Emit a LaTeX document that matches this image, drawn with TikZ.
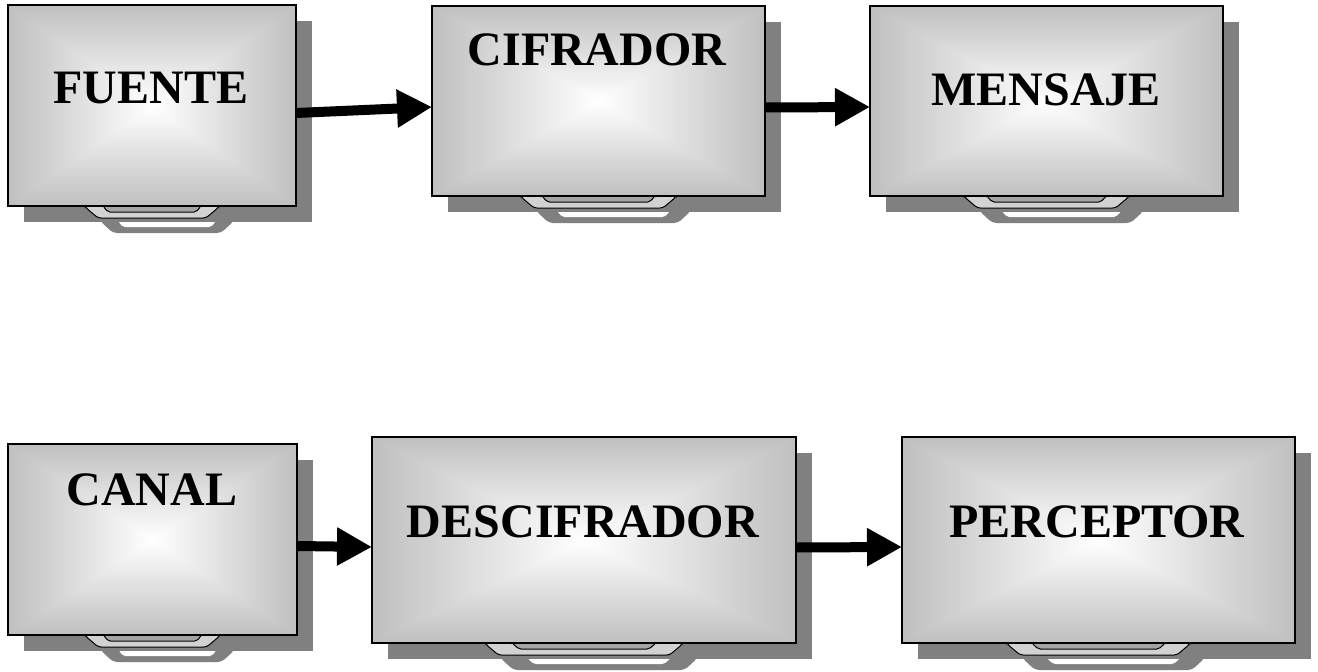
\documentclass[tikz,border=0pt]{standalone}
\usepackage{fontspec}
\setmainfont{Liberation Serif}
\usetikzlibrary{arrows.meta}
\definecolor{sdw}{HTML}{808080}
\definecolor{standlight}{HTML}{D2D2D2}
\definecolor{standdark}{HTML}{A4A4A4}
\pgfdeclarefunctionalshading{tvglow}{\pgfpoint{-50bp}{-50bp}}{\pgfpoint{50bp}{50bp}}{}{
  abs exch abs
  2 copy sub abs add add 2 div
  25 div
  dup 1 sub abs neg 1 add add 2 div
  0.25 mul 1 exch sub
  dup dup
}
\tikzset{
  tvbox/.style={draw=black, line width=1.3pt, shade, shading=tvglow, inner sep=0pt, outer sep=0pt},
  tvlabel/.style={font=\bfseries\fontsize{48}{50}\selectfont, anchor=base, inner sep=0pt},
  flow/.style={line width=10pt, -{Triangle[width=36pt,length=35pt]}},
  boxshadow/.style={fill=sdw},
  standouter/.style={fill=standlight, draw=black, line width=1pt, rounded corners=3pt},
  standinner/.style={fill=standdark, draw=black, line width=1pt, rounded corners=2pt},
}
\newcommand\tvunit[5]{%
  \pgfmathsetmacro\tvcx{(#2+#4)/2}%
  \pgfmathsetmacro\tvcy{(#3+#5)/2}%
  \pgfmathsetmacro\tvw{#4-#2}%
  \pgfmathsetmacro\tvh{#5-#3}%
  \pgfmathsetmacro\tvha{0.2325*(#4-#2)}%
  \pgfmathsetmacro\tvhi{0.73*\tvha}%
  \pgfmathsetmacro\tvhj{0.66*\tvha}%
  \fill[boxshadow, rounded corners=4pt] (\tvcx-\tvha+15,#5) -- (\tvcx-\tvha+15,#5+15) -- (\tvcx-\tvha+28,#5+27) -- (\tvcx+\tvha+2,#5+27) -- (\tvcx+\tvha+15,#5+15) -- (\tvcx+\tvha+15,#5) -- cycle;
  \fill[white, rounded corners=2pt] (\tvcx-\tvhi+15,#5+15) -- (\tvcx-\tvhj+15,#5+21) -- (\tvcx+\tvhj+15,#5+21) -- (\tvcx+\tvhi+15,#5+15) -- cycle;
  \fill[boxshadow] (#2+16,#3+16) rectangle (#4+16,#5+16);
  \path[standouter] (\tvcx-\tvha,#5-3) -- (\tvcx-\tvha,#5+1) -- (\tvcx-\tvha+13,#5+12) -- (\tvcx+\tvha-13,#5+12) -- (\tvcx+\tvha,#5+1) -- (\tvcx+\tvha,#5-3) -- cycle;
  \path[standinner] (\tvcx-\tvhi,#5-3) -- (\tvcx-\tvhi,#5) -- (\tvcx-\tvhj,#5+6) -- (\tvcx+\tvhj,#5+6) -- (\tvcx+\tvhi,#5) -- (\tvcx+\tvhi,#5-3) -- cycle;
  \node[tvbox, minimum width=\tvw pt, minimum height=\tvh pt] (#1) at (\tvcx,\tvcy) {};
}
\begin{document}
\begin{tikzpicture}[x=1pt,y=-1pt]
  \useasboundingbox (0,0) rectangle (1318,672);
  \tvunit{b1}{8}{5}{296}{206}
  \tvunit{b2}{432}{6}{765}{196}
  \tvunit{b3}{870}{6}{1223}{196}
  \tvunit{b4}{8}{444}{297}{635}
  \tvunit{b5}{372}{437}{796}{643}
  \tvunit{b6}{902}{437}{1295}{643}
  \node[tvlabel] (t1) at (151,103) {FUENTE};
  \node[tvlabel] (t2) at (597,65) {CIFRADOR};
  \node[tvlabel] (t3) at (1046,105) {MENSAJE};
  \node[tvlabel] (t4) at (152,505) {CANAL};
  \node[tvlabel] (t5) at (583,537) {DESCIFRADOR};
  \node[tvlabel] (t6) at (1097,537) {PERCEPTOR};
  \draw[flow] ([yshift=-7.5pt]b1.east) -- ([yshift=-6pt]b2.west);
  \draw[flow] ([yshift=-6.5pt]b2.east) -- ([yshift=-6pt]b3.west);
  \draw[flow] ([yshift=-6.5pt]b4.east) -- ([yshift=-7pt]b5.west);
  \draw[flow] ([yshift=-7.5pt]b5.east) -- ([yshift=-7pt]b6.west);
\end{tikzpicture}
\end{document}
